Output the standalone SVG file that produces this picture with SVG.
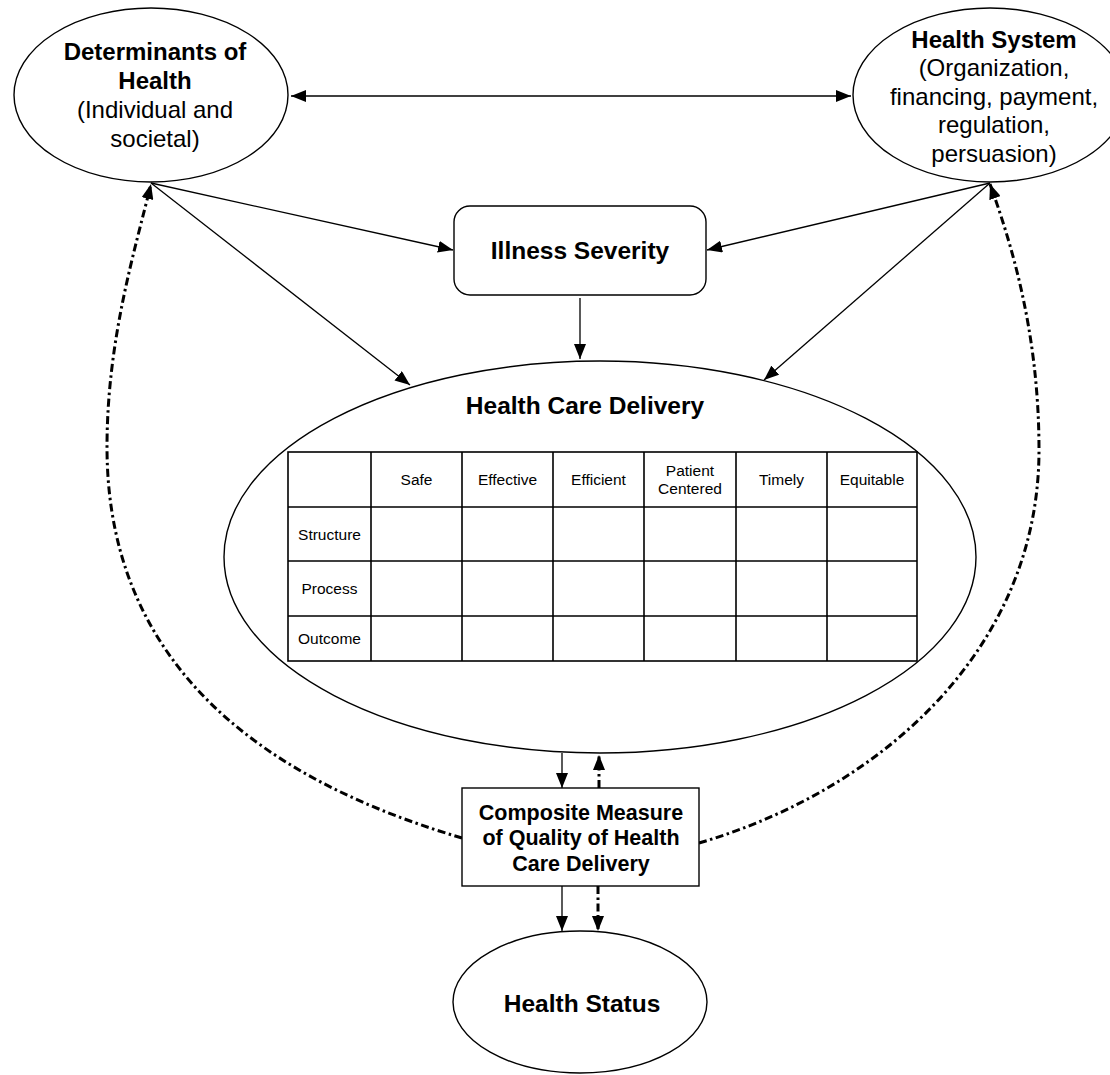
<svg xmlns="http://www.w3.org/2000/svg" width="1110" height="1075" viewBox="0 0 1110 1075">
<style>
.shape{fill:#fff;stroke:#000;stroke-width:1.4}
.ln{fill:none;stroke:#000;stroke-width:1.3}
.dd{fill:none;stroke:#000;stroke-width:3;stroke-dasharray:8 3.5 2.5 3.5}
.tb{font-family:"Liberation Sans",Arial,sans-serif;font-weight:bold;text-anchor:middle;fill:#000}
.tr{font-family:"Liberation Sans",Arial,sans-serif;text-anchor:middle;fill:#000}
.grid{fill:none;stroke:#000;stroke-width:1.6}
</style>
<defs>
<marker id="ah" markerUnits="userSpaceOnUse" markerWidth="16" markerHeight="12" viewBox="0 0 16 12" refX="15" refY="6" orient="auto-start-reverse">
<path d="M0,0 L15,6 L0,12 Z" fill="#000"/>
</marker>
</defs>
<rect width="1110" height="1075" fill="#fff"/>

<g id="connectors">
<line class="ln" x1="291" y1="96" x2="851" y2="96" marker-start="url(#ah)" marker-end="url(#ah)"/>
<line class="ln" x1="151" y1="183" x2="453" y2="250" marker-end="url(#ah)"/>
<line class="ln" x1="990" y1="183" x2="707" y2="250" marker-end="url(#ah)"/>
<line class="ln" x1="151" y1="183" x2="410" y2="385" marker-end="url(#ah)"/>
<line class="ln" x1="990" y1="183" x2="764" y2="380" marker-end="url(#ah)"/>
<line class="ln" x1="580" y1="298" x2="580" y2="359" marker-end="url(#ah)"/>
<line class="ln" x1="562" y1="753" x2="562" y2="788" marker-end="url(#ah)"/>
<line class="dd" x1="599" y1="788" x2="599" y2="755" marker-end="url(#ah)"/>
<line class="ln" x1="562" y1="886" x2="562" y2="931" marker-end="url(#ah)"/>
<line class="dd" x1="598" y1="886" x2="598" y2="931" marker-end="url(#ah)"/>
<path class="dd" d="M462,838 C300,790 107,690 107,447 C107,340 135,250 151,184" marker-end="url(#ah)"/>
<path class="dd" d="M699,843 C880,790 1039,650 1039,450 C1039,330 1010,240 990,184" marker-end="url(#ah)"/>
</g>

<g id="determinants">
<ellipse class="shape" cx="151" cy="95" rx="137" ry="87"/>
<text class="tb" x="155" y="60" font-size="24">Determinants of</text>
<text class="tb" x="155" y="88.5" font-size="24">Health</text>
<text class="tr" x="155" y="117.5" font-size="24">(Individual and</text>
<text class="tr" x="155" y="146.5" font-size="24">societal)</text>
</g>

<g id="health-system">
<ellipse class="shape" cx="990" cy="95" rx="137" ry="87"/>
<text class="tb" x="994" y="47.5" font-size="24">Health System</text>
<text class="tr" x="994" y="76" font-size="24">(Organization,</text>
<text class="tr" x="994" y="104.5" font-size="24">financing, payment,</text>
<text class="tr" x="994" y="133" font-size="24">regulation,</text>
<text class="tr" x="994" y="161.5" font-size="24">persuasion)</text>
</g>

<g id="illness-severity">
<rect class="shape" x="454" y="206" width="252" height="89" rx="16" ry="16"/>
<text class="tb" x="580" y="259" font-size="24.5">Illness Severity</text>
</g>

<g id="health-care-delivery">
<ellipse class="shape" cx="600" cy="557" rx="376" ry="196"/>
<text class="tb" x="585" y="414" font-size="24.5">Health Care Delivery</text>
<g id="quality-table">
<rect class="grid" x="288" y="452" width="629" height="209"/>
<path class="grid" d="M371,452V661M462,452V661M553,452V661M644,452V661M736,452V661M827,452V661M288,507H917M288,561H917M288,616H917"/>
<text class="tr" font-size="15.5" x="416.5" y="484.5">Safe</text>
<text class="tr" font-size="15.5" x="507.5" y="484.5">Effective</text>
<text class="tr" font-size="15.5" x="598.5" y="484.5">Efficient</text>
<text class="tr" font-size="15.5" x="690" y="475.5">Patient</text>
<text class="tr" font-size="15.5" x="690" y="493.5">Centered</text>
<text class="tr" font-size="15.5" x="781.5" y="484.5">Timely</text>
<text class="tr" font-size="15.5" x="872" y="484.5">Equitable</text>
<text class="tr" font-size="15.5" x="329.5" y="539.5">Structure</text>
<text class="tr" font-size="15.5" x="329.5" y="594">Process</text>
<text class="tr" font-size="15.5" x="329.5" y="644">Outcome</text>
</g>
</g>

<g id="composite-measure">
<rect class="shape" x="462" y="788" width="237" height="98"/>
<text class="tb" x="581" y="819.5" font-size="21.5">Composite Measure</text>
<text class="tb" x="581" y="845" font-size="21.5">of Quality of Health</text>
<text class="tb" x="581" y="870.5" font-size="21.5">Care Delivery</text>
</g>

<g id="health-status">
<ellipse class="shape" cx="580" cy="1002" rx="127" ry="71"/>
<text class="tb" x="582" y="1012" font-size="24.5">Health Status</text>
</g>
</svg>
